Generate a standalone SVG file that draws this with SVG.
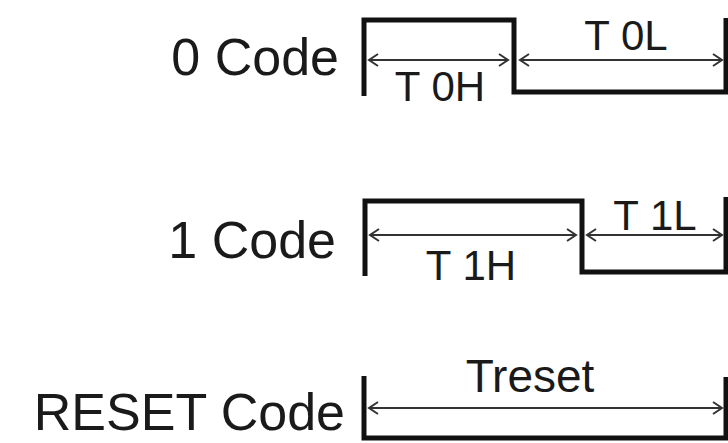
<svg xmlns="http://www.w3.org/2000/svg" width="728" height="443" viewBox="0 0 728 443">
<defs>
<style>
.lbl{font-family:"Liberation Sans",Arial,sans-serif;font-size:52px;fill:#1a1a1a;text-anchor:end}
.tm{font-family:"Liberation Sans",Arial,sans-serif;font-size:42px;fill:#1a1a1a;text-anchor:middle}
.wave{fill:none;stroke:#111;stroke-width:5;stroke-linejoin:miter;stroke-linecap:butt}
.dim{stroke:#333;stroke-width:2;fill:none;marker-start:url(#ah);marker-end:url(#ah)}
</style>
<marker id="ah" markerUnits="userSpaceOnUse" markerWidth="14" markerHeight="16" refX="11" refY="8" orient="auto-start-reverse" viewBox="0 0 14 16">
<path d="M2,2 L11,8 L2,14" fill="none" stroke="#333" stroke-width="2"/>
</marker>
</defs>
<rect width="728" height="443" fill="#fff"/>
<g id="code0">
<text class="lbl" x="339" y="75">0 Code</text>
<path class="wave" d="M364,96 V20 H514 V92 H728"/>
<line class="wave" x1="726" y1="18" x2="726" y2="94"/>
<text class="tm" x="440" y="101">T 0H</text>
<text class="tm" x="626" y="50">T 0L</text>
</g>
<g id="code1">
<text class="lbl" x="336" y="258">1 Code</text>
<path class="wave" d="M365,276 V201 H582 V272 H728"/>
<line class="wave" x1="726" y1="197" x2="726" y2="274"/>
<text class="tm" x="471" y="280">T 1H</text>
<text class="tm" x="655" y="230">T 1L</text>
</g>
<g id="reset">
<text class="lbl" x="345" y="430">RESET Code</text>
<path class="wave" d="M364,376 V438 H728"/>
<line class="wave" x1="726" y1="377" x2="726" y2="440"/>
<text class="tm" x="530" y="392" style="font-size:46px">Treset</text>
</g>
<g id="connectors">
<line class="dim" x1="369" y1="60" x2="508" y2="60"/>
<line class="dim" x1="520" y1="60" x2="722" y2="60"/>
<line class="dim" x1="370" y1="235" x2="576" y2="235"/>
<line class="dim" x1="587" y1="235" x2="722" y2="235"/>
<line class="dim" x1="369" y1="408" x2="722" y2="408"/>
</g>
</svg>
